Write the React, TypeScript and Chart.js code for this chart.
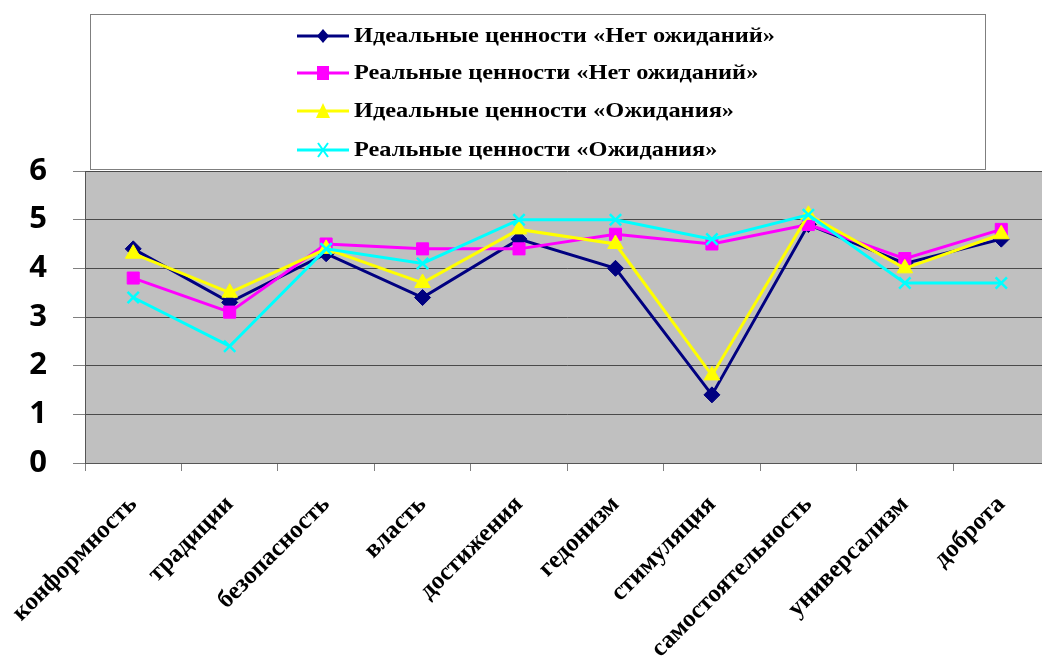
import React, { useEffect, useRef } from 'react';
import { Chart, registerables } from 'chart.js';

Chart.register(...registerables);

const categories = [
  'конформность',
  'традиции',
  'безопасность',
  'власть',
  'достижения',
  'гедонизм',
  'стимуляция',
  'самостоятельность',
  'универсализм',
  'доброта',
];

const seriesLabels = [
  'Идеальные ценности «Нет ожиданий»',
  'Реальные ценности «Нет ожиданий»',
  'Идеальные ценности «Ожидания»',
  'Реальные ценности «Ожидания»',
];

const idealNoExpect = [4.4, 3.3, 4.3, 3.4, 4.6, 4.0, 1.4, 4.9, 4.1, 4.6];
const realNoExpect = [3.8, 3.1, 4.5, 4.4, 4.4, 4.7, 4.5, 4.9, 4.2, 4.8];
const idealExpect = [4.3, 3.5, 4.4, 3.7, 4.8, 4.5, 1.8, 5.1, 4.0, 4.7];
const realExpect = [3.4, 2.4, 4.4, 4.1, 5.0, 5.0, 4.6, 5.1, 3.7, 3.7];

const yMin = 0;
const yMax = 6;
const yStep = 1;

const colors = ['#000080', '#FF00FF', '#FFFF00', '#00FFFF'];
const pointStyles = ['rectRot', 'rect', 'triangle', 'crossRot'];
const pointRadii = [8, 8.5, 9, 8];

function drawMarker(ctx: CanvasRenderingContext2D, style: string, x: number, y: number, color: string) {
  ctx.save();
  ctx.fillStyle = color;
  ctx.strokeStyle = color;
  ctx.beginPath();
  if (style === 'rectRot') {
    ctx.moveTo(x, y - 7);
    ctx.lineTo(x + 6, y);
    ctx.lineTo(x, y + 7);
    ctx.lineTo(x - 6, y);
    ctx.closePath();
    ctx.fill();
  } else if (style === 'rect') {
    ctx.rect(x - 6, y - 7, 12, 14);
    ctx.fill();
  } else if (style === 'triangle') {
    ctx.moveTo(x, y - 8);
    ctx.lineTo(x + 7, y + 7);
    ctx.lineTo(x - 7, y + 7);
    ctx.closePath();
    ctx.fill();
  } else {
    ctx.lineWidth = 2;
    ctx.moveTo(x - 5, y - 7);
    ctx.lineTo(x + 5, y + 7);
    ctx.moveTo(x + 5, y - 7);
    ctx.lineTo(x - 5, y + 7);
    ctx.stroke();
  }
  ctx.restore();
}

const backgroundPlugin = {
  id: 'plotBackground',
  beforeDraw(chart: any) {
    const { ctx, chartArea } = chart;
    ctx.save();
    ctx.fillStyle = '#FFFFFF';
    ctx.fillRect(0, 0, chart.width, chart.height);
    ctx.fillStyle = '#C0C0C0';
    ctx.fillRect(chartArea.left, chartArea.top, chartArea.right - chartArea.left, chartArea.bottom - chartArea.top);
    ctx.restore();
  },
};

const legendPlugin = {
  id: 'boxLegend',
  afterDraw(chart: any) {
    const { ctx } = chart;
    ctx.save();
    ctx.strokeStyle = '#7F7F7F';
    ctx.lineWidth = 1;
    ctx.strokeRect(90.5, 14.5, 895, 155);
    const rows = [36, 73, 111, 150];
    chart.data.datasets.forEach((ds: any, i: number) => {
      const y = rows[i];
      ctx.strokeStyle = ds.borderColor;
      ctx.lineWidth = 3;
      ctx.beginPath();
      ctx.moveTo(297, y);
      ctx.lineTo(349, y);
      ctx.stroke();
      drawMarker(ctx, ds.pointStyle, 323, y, ds.borderColor);
      ctx.save();
      ctx.translate(354, y + 1);
      ctx.scale(1.16, 1);
      ctx.fillStyle = '#000000';
      ctx.font = 'bold 21px "Liberation Serif"';
      ctx.textBaseline = 'middle';
      ctx.textAlign = 'left';
      ctx.fillText(ds.label, 0, 0);
      ctx.restore();
    });
    ctx.restore();
  },
};

export default function App() {
  const canvasRef = useRef<HTMLCanvasElement | null>(null);

  useEffect(() => {
    if (!canvasRef.current) return;
    const seriesData = [idealNoExpect, realNoExpect, idealExpect, realExpect];
    const chart = new Chart(canvasRef.current, {
      type: 'line',
      data: {
        labels: categories,
        datasets: seriesData.map((d, i) => ({
          label: seriesLabels[i],
          data: d,
          borderColor: colors[i],
          backgroundColor: colors[i],
          borderWidth: 3,
          pointStyle: pointStyles[i],
          pointRadius: pointRadii[i],
          pointBorderWidth: i === 3 ? 2.5 : 1,
          pointBorderColor: colors[i],
          pointBackgroundColor: colors[i],
          tension: 0,
          order: 3 - i,
        })),
      },
      options: {
        animation: false,
        responsive: false,
        maintainAspectRatio: false,
        layout: { padding: { top: 171, left: 0, right: 5, bottom: 0 } },
        plugins: {
          legend: { display: false },
          tooltip: { enabled: false },
        },
        scales: {
          x: {
            offset: true,
            grid: {
              offset: true,
              drawOnChartArea: false,
              drawTicks: true,
              tickLength: 8,
              color: '#808080',
            },
            border: { display: true, color: '#555555', width: 1 },
            ticks: {
              autoSkip: false,
              minRotation: 45,
              maxRotation: 45,
              padding: 19,
              color: '#000000',
              font: { family: '"Liberation Serif"', size: 25, weight: 'bold' },
            },
            afterFit(scale: any) {
              scale.height = 199;
              scale.paddingLeft = 0;
              scale.paddingRight = 0;
            },
          },
          y: {
            min: yMin,
            max: yMax,
            ticks: {
              stepSize: yStep,
              padding: 26,
              color: '#000000',
              font: { family: '"Open Sans"', size: 31, weight: 'bold' },
            },
            grid: {
              color: '#4A4A4A',
              lineWidth: 1,
              tickLength: 12,
              tickColor: '#808080',
            },
            border: { display: true, color: '#555555', width: 1 },
            afterFit(scale: any) {
              scale.width = 85;
              scale.paddingTop = 0;
              scale.paddingBottom = 0;
            },
          },
        },
      },
      plugins: [backgroundPlugin, legendPlugin],
    });
    return () => chart.destroy();
  }, []);

  return (
    <div style={{ position: 'fixed', left: 0, top: 0, width: 1060, height: 662 }}>
      <canvas ref={canvasRef} width={1060} height={662} style={{ display: 'block' }} />
    </div>
  );
}
